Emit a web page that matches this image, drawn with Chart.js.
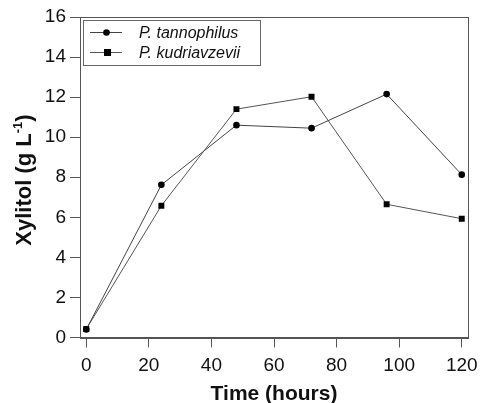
<!DOCTYPE html>
<html><head><meta charset="utf-8">
<script src="https://cdn.jsdelivr.net/npm/chart.js@4.4.1/dist/chart.umd.min.js"></script>
<style>html,body{margin:0;padding:0;background:#fff}#wrap{width:481px;height:403px}</style>
</head><body><div id="wrap"><canvas id="c" width="481" height="403"></canvas></div>
<script>
const timeHours = [0, 24, 48, 72, 96, 120];
const tannophilus = [0.4, 7.62, 10.6, 10.45, 12.15, 8.13];
const kudriavzevii = [0.42, 6.58, 11.4, 12.02, 6.65, 5.93];
const seriesNames = ['P. tannophilus', 'P. kudriavzevii'];
const xTicks = [0, 20, 40, 60, 80, 100, 120];
const yTicks = [0, 2, 4, 6, 8, 10, 12, 14, 16];
const xTitle = 'Time (hours)';
const yTitleMain = 'Xylitol (g L';
const yTitleSup = '-1';
const yTitleEnd = ')';

const FONT = "'Liberation Sans', Arial, sans-serif";

const framePlugin = {
  id: 'frame',
  afterDraw(chart) {
    const {ctx, chartArea: a} = chart;
    ctx.save();
    ctx.strokeStyle = '#555';
    ctx.lineWidth = 1;
    ctx.strokeRect(Math.round(a.left) + 0.5, Math.round(a.top) + 0.5, Math.round(a.right - a.left), Math.round(a.bottom - a.top));
    // legend box
    const lx = 83.5, ly = 20.5, lw = 177, lh = 45;
    ctx.fillStyle = '#fff';
    ctx.fillRect(lx, ly, lw, lh);
    ctx.strokeStyle = '#666';
    ctx.strokeRect(lx, ly, lw, lh);
    const rows = [32, 52];
    chart.data.datasets.forEach((ds, i) => {
      const y = rows[i] + 0.5;
      ctx.strokeStyle = ds.borderColor;
      ctx.beginPath(); ctx.moveTo(90, y); ctx.lineTo(122, y); ctx.stroke();
      ctx.fillStyle = '#000';
      if (ds.pointStyle === 'rect') {
        ctx.fillRect(104, y - 3.5, 7, 7);
      } else {
        ctx.beginPath(); ctx.arc(106.5, y, 3.3, 0, Math.PI * 2); ctx.fill();
      }
      ctx.fillStyle = '#111';
      ctx.font = 'italic 16px ' + FONT;
      ctx.textBaseline = 'middle';
      ctx.textAlign = 'left';
      ctx.fillText(ds.label, 139, y + 1);
    });
    // y title with superscript
    ctx.save();
    ctx.translate(25, 180);
    ctx.rotate(-Math.PI / 2);
    ctx.fillStyle = '#111';
    ctx.textBaseline = 'middle';
    const bigF = 'bold 22px ' + FONT, smallF = 'bold 13px ' + FONT;
    ctx.font = bigF; const w1 = ctx.measureText(yTitleMain).width; const w3 = ctx.measureText(yTitleEnd).width;
    ctx.font = smallF; const w2 = ctx.measureText(yTitleSup).width;
    let x = -(w1 + w2 + w3) / 2;
    ctx.textAlign = 'left';
    ctx.font = bigF; ctx.fillText(yTitleMain, x, 0); x += w1;
    ctx.font = smallF; ctx.fillText(yTitleSup, x, -7); x += w2;
    ctx.font = bigF; ctx.fillText(yTitleEnd, x, 0);
    ctx.restore();
    ctx.restore();
  }
};

new Chart(document.getElementById('c'), {
  type: 'line',
  data: {
    datasets: [
      { label: seriesNames[0], data: timeHours.map((t, i) => ({x: t, y: tannophilus[i]})),
        borderColor: '#444', borderWidth: 1, pointStyle: 'circle', pointRadius: 3.3,
        pointBackgroundColor: '#000', pointBorderColor: '#000', pointBorderWidth: 0, tension: 0 },
      { label: seriesNames[1], data: timeHours.map((t, i) => ({x: t, y: kudriavzevii[i]})),
        borderColor: '#555', borderWidth: 1, pointStyle: 'rect', pointRadius: 4.2,
        pointBackgroundColor: '#000', pointBorderColor: '#000', pointBorderWidth: 0, tension: 0 }
    ]
  },
  options: {
    responsive: false, animation: false, devicePixelRatio: 1,
    layout: { padding: { left: 0, right: 13, top: 17, bottom: 0 } },
    plugins: { legend: { display: false }, tooltip: { enabled: false } },
    scales: {
      x: {
        type: 'linear', min: -2, max: 122,
        afterFit(s) { s.height = 65.5; s.paddingLeft = 0; s.paddingRight = 0; },
        afterBuildTicks(s) { s.ticks = xTicks.map(v => ({value: v})); },
        grid: { drawOnChartArea: false, drawTicks: true, tickLength: 10, color: '#555' },
        border: { display: true, color: '#555' },
        ticks: { color: '#111', font: { family: FONT, size: 19 }, padding: 7, maxRotation: 0 },
        title: { display: true, text: xTitle, color: '#111', font: { family: FONT, size: 21, weight: 'bold' }, padding: { top: 5, bottom: -4 } }
      },
      y: {
        type: 'linear', min: 0, max: 16,
        afterFit(s) { s.width = 80; s.paddingTop = 0; s.paddingBottom = 0; },
        afterBuildTicks(s) { s.ticks = yTicks.map(v => ({value: v})); },
        grid: { drawOnChartArea: false, drawTicks: true, tickLength: 10, color: '#555' },
        border: { display: true, color: '#555' },
        ticks: { color: '#111', font: { family: FONT, size: 19 }, padding: 4 }
      }
    }
  },
  plugins: [framePlugin]
});
</script></body></html>
